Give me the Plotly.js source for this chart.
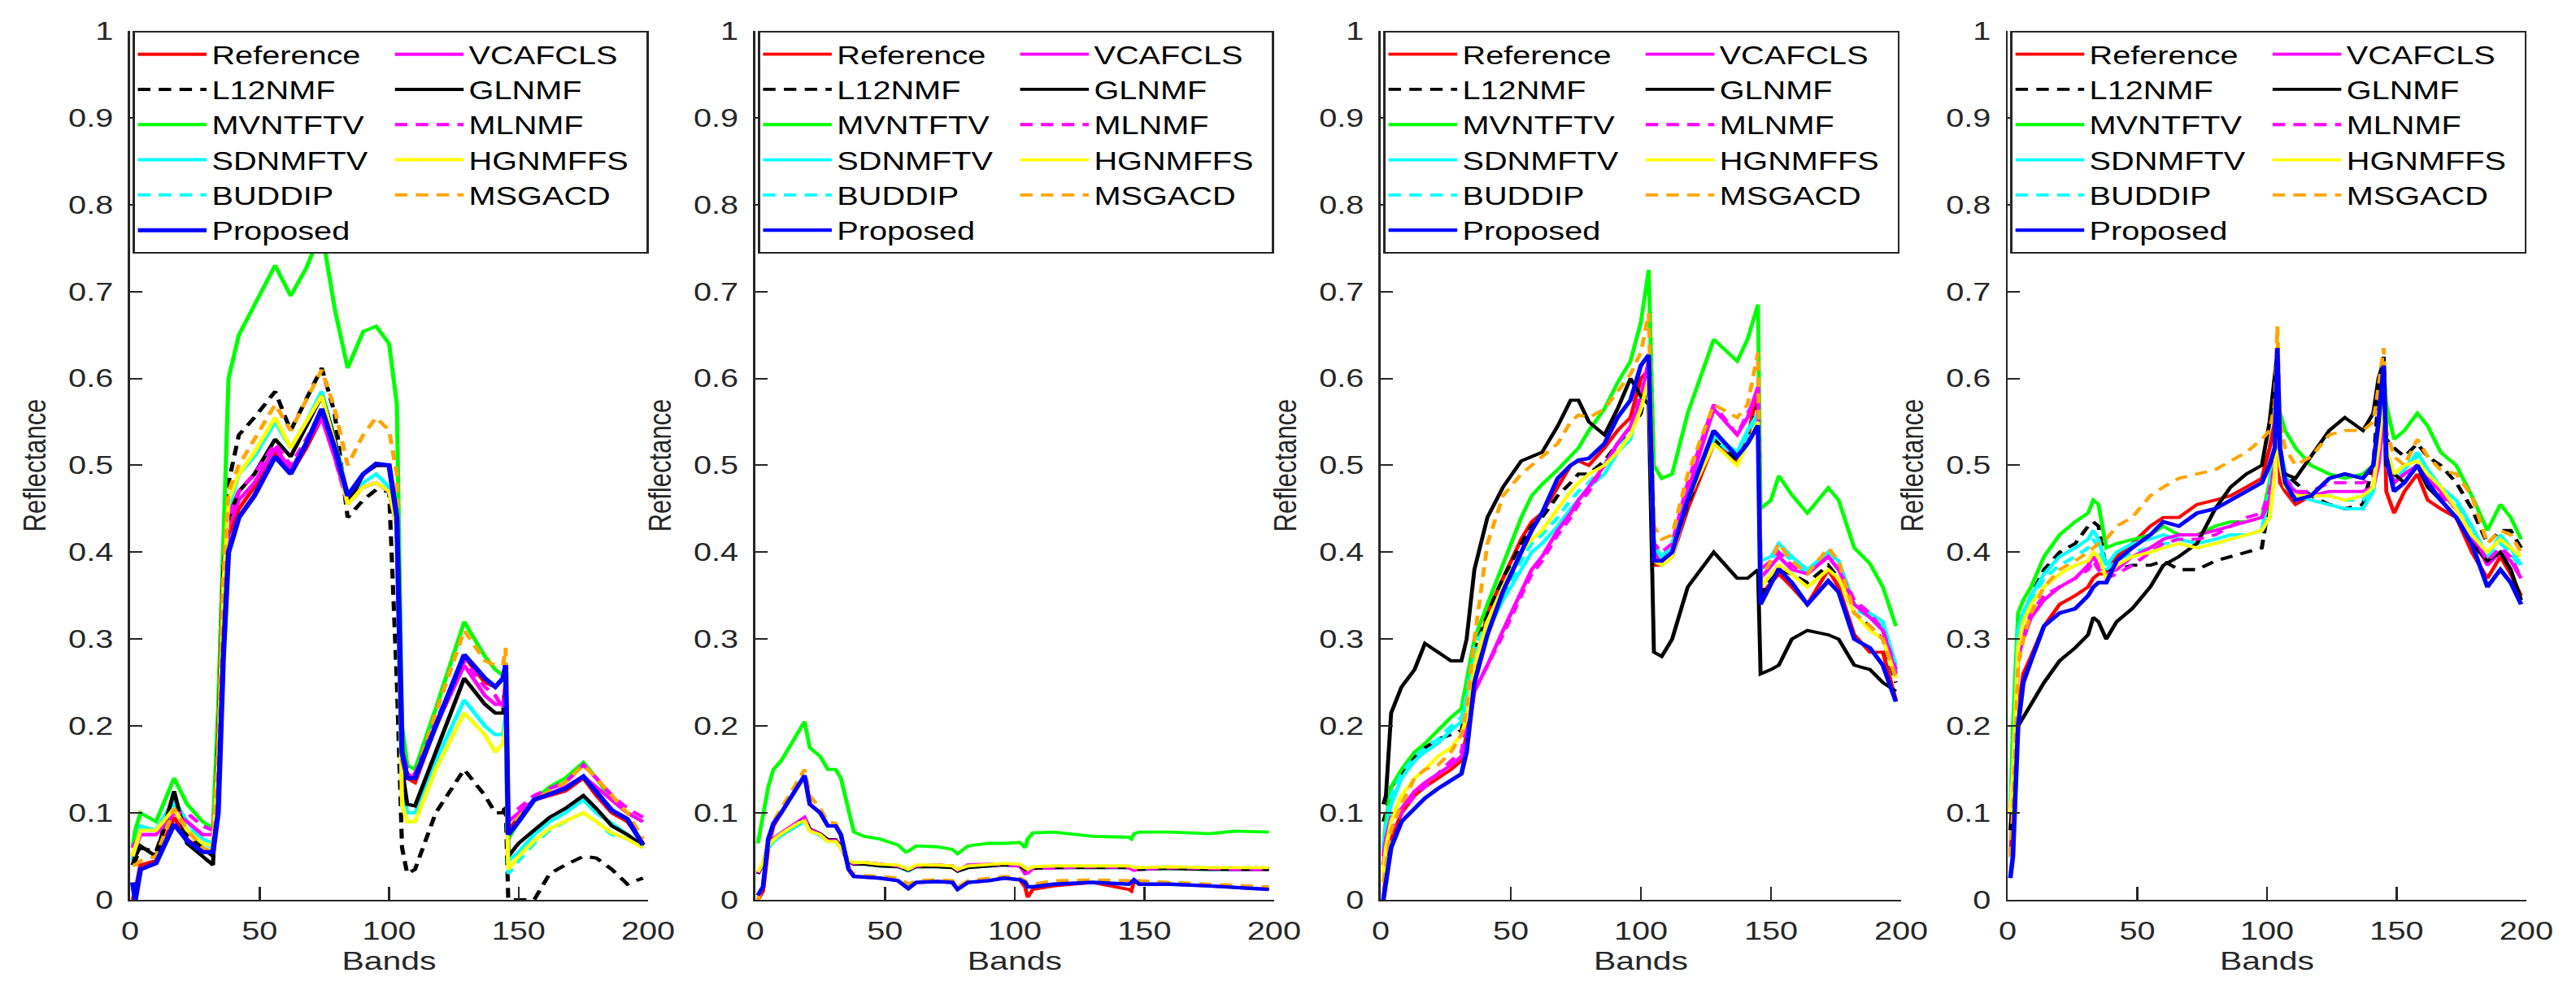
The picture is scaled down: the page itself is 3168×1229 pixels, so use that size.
<!DOCTYPE html>
<html>
<head>
<meta charset="utf-8">
<script src="https://cdn.plot.ly/plotly-3.0.1.min.js"></script>
<style>
html, body { margin: 0; padding: 0; background: #ffffff; overflow: hidden; }
/* the source figure is stretched sideways, so the page is drawn narrower and widened */
#chart { width: 2475px; height: 1229px; transform: scaleX(1.28); transform-origin: 0 0; }
</style>
</head>
<body>
<div id="chart"></div>
<script>
// ---- panel 1 ----
const p1Bands = [1,2,4,10,17,22,28,32,34,36,38,42,48,56,62,68,74,79,84,90,95,100,103,105,107,110,118,129,137,141,144,145,146,150,156,162,168,175,180,186,192,198];
const p1Reference = [0.0,0.01,0.04,0.045,0.095,0.07,0.055,0.055,0.12,0.33,0.42,0.45,0.475,0.515,0.49,0.52,0.555,0.51,0.46,0.49,0.5,0.5,0.44,0.18,0.14,0.135,0.2,0.28,0.25,0.245,0.255,0.265,0.08,0.095,0.115,0.12,0.125,0.14,0.12,0.1,0.09,0.065];
const p1L12NMF = [0.04,0.045,0.06,0.055,0.115,0.075,0.06,0.05,0.18,0.4,0.48,0.535,0.555,0.585,0.54,0.575,0.612,0.56,0.44,0.46,0.472,0.47,0.25,0.06,0.03,0.035,0.1,0.15,0.12,0.1,0.1,0.11,0.0,0.0,0.0,0.03,0.04,0.05,0.048,0.035,0.018,0.025];
const p1MVNTFTV = [0.06,0.08,0.1,0.09,0.14,0.11,0.09,0.082,0.22,0.4,0.6,0.65,0.685,0.73,0.695,0.727,0.77,0.68,0.612,0.654,0.66,0.64,0.57,0.2,0.155,0.15,0.22,0.32,0.28,0.265,0.258,0.255,0.07,0.09,0.115,0.13,0.14,0.158,0.14,0.115,0.1,0.09];
const p1SDNMFTV = [0.045,0.06,0.085,0.08,0.115,0.09,0.07,0.065,0.16,0.36,0.45,0.49,0.51,0.55,0.52,0.55,0.585,0.53,0.465,0.48,0.49,0.475,0.44,0.13,0.1,0.1,0.16,0.23,0.2,0.19,0.19,0.21,0.045,0.055,0.075,0.09,0.1,0.115,0.1,0.088,0.075,0.06];
const p1BUDDIP = [0.05,0.06,0.08,0.08,0.11,0.085,0.065,0.06,0.16,0.36,0.46,0.49,0.51,0.55,0.52,0.55,0.58,0.525,0.46,0.475,0.48,0.47,0.43,0.11,0.09,0.09,0.15,0.215,0.19,0.17,0.18,0.2,0.03,0.045,0.065,0.08,0.09,0.1,0.09,0.075,0.07,0.06];
const p1VCAFCLS = [0.05,0.06,0.075,0.075,0.1,0.09,0.075,0.075,0.14,0.32,0.43,0.46,0.48,0.52,0.495,0.525,0.555,0.51,0.46,0.475,0.48,0.47,0.43,0.16,0.145,0.14,0.2,0.27,0.235,0.225,0.225,0.25,0.09,0.1,0.115,0.122,0.13,0.142,0.13,0.115,0.1,0.09];
const p1GLNMF = [0.04,0.05,0.062,0.05,0.125,0.065,0.05,0.04,0.18,0.38,0.44,0.47,0.49,0.53,0.51,0.545,0.58,0.53,0.455,0.49,0.5,0.5,0.44,0.15,0.11,0.108,0.17,0.255,0.225,0.215,0.215,0.24,0.05,0.065,0.08,0.095,0.105,0.12,0.105,0.085,0.075,0.062];
const p1MLNMF = [0.06,0.065,0.075,0.075,0.1,0.1,0.085,0.08,0.14,0.33,0.44,0.47,0.49,0.525,0.5,0.53,0.56,0.51,0.455,0.475,0.48,0.47,0.43,0.17,0.15,0.145,0.205,0.275,0.245,0.235,0.22,0.24,0.1,0.105,0.12,0.128,0.135,0.155,0.14,0.12,0.105,0.095];
const p1HGNMFFS = [0.05,0.06,0.08,0.08,0.105,0.08,0.065,0.062,0.16,0.36,0.46,0.49,0.515,0.555,0.52,0.55,0.58,0.525,0.455,0.475,0.48,0.47,0.43,0.11,0.09,0.09,0.15,0.215,0.19,0.17,0.18,0.2,0.035,0.05,0.068,0.082,0.09,0.1,0.09,0.077,0.07,0.06];
const p1MSGACD = [0.04,0.04,0.045,0.05,0.105,0.08,0.06,0.055,0.17,0.37,0.47,0.5,0.53,0.57,0.54,0.575,0.61,0.565,0.5,0.535,0.555,0.54,0.49,0.16,0.14,0.14,0.215,0.31,0.275,0.27,0.27,0.29,0.08,0.095,0.115,0.125,0.135,0.155,0.14,0.12,0.1,0.07];
const p1Proposed = [0.02,0.0,0.035,0.042,0.087,0.068,0.055,0.055,0.1,0.28,0.4,0.44,0.465,0.51,0.49,0.525,0.565,0.52,0.465,0.49,0.502,0.5,0.44,0.17,0.14,0.14,0.2,0.282,0.255,0.245,0.255,0.27,0.075,0.09,0.115,0.122,0.128,0.142,0.125,0.103,0.093,0.063];

// ---- panel 2 ----
const p2Bands = [1,3,5,7,10,14,17,19,21,25,28,31,33,36,38,42,48,55,58,59,62,70,76,78,82,90,96,102,104,105,107,115,130,144,145,146,148,160,175,185,198];
const p2Reference = [0.0,0.01,0.06,0.085,0.1,0.12,0.135,0.143,0.11,0.1,0.085,0.085,0.075,0.035,0.027,0.026,0.025,0.022,0.015,0.013,0.02,0.021,0.02,0.012,0.02,0.022,0.025,0.023,0.015,0.003,0.012,0.016,0.02,0.012,0.01,0.022,0.018,0.018,0.016,0.014,0.012];
const p2L12NMF = [0.03,0.04,0.06,0.068,0.075,0.082,0.088,0.092,0.08,0.075,0.068,0.068,0.06,0.045,0.042,0.042,0.04,0.039,0.036,0.035,0.039,0.039,0.038,0.034,0.038,0.04,0.041,0.04,0.036,0.034,0.037,0.038,0.038,0.038,0.037,0.036,0.036,0.037,0.036,0.036,0.036];
const p2MVNTFTV = [0.065,0.1,0.13,0.15,0.16,0.18,0.195,0.205,0.175,0.165,0.15,0.15,0.14,0.1,0.078,0.073,0.07,0.063,0.055,0.056,0.062,0.061,0.058,0.053,0.062,0.065,0.065,0.066,0.06,0.07,0.077,0.078,0.073,0.072,0.07,0.076,0.078,0.078,0.076,0.079,0.078];
const p2SDNMFTV = [0.03,0.04,0.06,0.067,0.074,0.081,0.087,0.09,0.079,0.074,0.067,0.067,0.06,0.043,0.041,0.041,0.039,0.038,0.034,0.033,0.038,0.038,0.037,0.033,0.037,0.039,0.04,0.039,0.035,0.034,0.036,0.037,0.037,0.037,0.036,0.035,0.035,0.036,0.035,0.035,0.035];
const p2BUDDIP = [0.031,0.041,0.061,0.068,0.075,0.082,0.088,0.091,0.08,0.075,0.068,0.068,0.061,0.044,0.042,0.042,0.04,0.039,0.035,0.034,0.039,0.039,0.038,0.034,0.038,0.04,0.041,0.04,0.036,0.035,0.037,0.038,0.038,0.038,0.037,0.036,0.036,0.037,0.036,0.036,0.036];
const p2VCAFCLS = [0.03,0.042,0.063,0.07,0.077,0.085,0.09,0.095,0.082,0.076,0.069,0.069,0.061,0.043,0.042,0.043,0.041,0.039,0.035,0.034,0.039,0.04,0.039,0.034,0.04,0.041,0.04,0.039,0.03,0.031,0.036,0.037,0.038,0.037,0.035,0.034,0.035,0.037,0.036,0.035,0.035];
const p2GLNMF = [0.03,0.042,0.062,0.07,0.076,0.083,0.089,0.093,0.081,0.076,0.069,0.069,0.061,0.044,0.041,0.041,0.039,0.038,0.035,0.034,0.038,0.038,0.037,0.033,0.037,0.039,0.04,0.039,0.035,0.033,0.036,0.037,0.037,0.037,0.036,0.035,0.035,0.036,0.035,0.035,0.035];
const p2MLNMF = [0.031,0.041,0.062,0.07,0.077,0.084,0.09,0.094,0.081,0.075,0.068,0.068,0.06,0.043,0.042,0.043,0.041,0.039,0.035,0.034,0.039,0.04,0.039,0.034,0.04,0.041,0.04,0.039,0.031,0.031,0.036,0.037,0.038,0.037,0.035,0.034,0.035,0.037,0.036,0.035,0.035];
const p2HGNMFFS = [0.032,0.043,0.062,0.069,0.076,0.083,0.089,0.091,0.079,0.075,0.067,0.067,0.06,0.045,0.043,0.043,0.041,0.04,0.036,0.035,0.04,0.04,0.039,0.035,0.039,0.041,0.042,0.041,0.037,0.035,0.038,0.039,0.039,0.039,0.038,0.037,0.037,0.038,0.037,0.037,0.037];
const p2MSGACD = [0.0,0.02,0.065,0.09,0.105,0.125,0.14,0.15,0.12,0.105,0.09,0.088,0.075,0.035,0.03,0.028,0.027,0.025,0.02,0.018,0.022,0.023,0.022,0.015,0.022,0.025,0.027,0.025,0.022,0.018,0.018,0.022,0.023,0.022,0.022,0.025,0.022,0.02,0.018,0.017,0.015];
const p2Proposed = [0.005,0.015,0.07,0.088,0.1,0.12,0.135,0.143,0.11,0.1,0.085,0.085,0.075,0.035,0.027,0.026,0.025,0.022,0.015,0.013,0.02,0.021,0.02,0.012,0.02,0.022,0.025,0.023,0.02,0.015,0.015,0.018,0.02,0.018,0.02,0.023,0.018,0.018,0.016,0.014,0.012];

// ---- panel 3 ----
const p3Bands = [1,2,4,8,13,17,22,27,31,33,36,41,47,54,58,62,68,73,76,80,86,91,96,100,103,105,108,112,118,128,137,141,145,146,150,153,158,164,172,176,182,188,193,198];
const p3Reference = [0.0,0.03,0.07,0.1,0.12,0.13,0.14,0.15,0.16,0.19,0.26,0.33,0.37,0.415,0.435,0.445,0.475,0.5,0.505,0.5,0.52,0.54,0.555,0.6,0.61,0.385,0.385,0.395,0.45,0.525,0.505,0.53,0.59,0.35,0.365,0.375,0.36,0.34,0.38,0.36,0.305,0.285,0.285,0.23];
const p3L12NMF = [0.09,0.1,0.13,0.145,0.165,0.175,0.185,0.19,0.195,0.22,0.29,0.33,0.37,0.41,0.43,0.44,0.465,0.48,0.49,0.49,0.505,0.525,0.54,0.56,0.6,0.39,0.39,0.4,0.455,0.53,0.505,0.525,0.57,0.35,0.37,0.38,0.375,0.365,0.385,0.37,0.33,0.315,0.3,0.25];
const p3MVNTFTV = [0.06,0.09,0.13,0.15,0.17,0.18,0.195,0.21,0.22,0.25,0.3,0.34,0.385,0.44,0.465,0.478,0.495,0.51,0.52,0.54,0.565,0.595,0.62,0.665,0.725,0.5,0.485,0.49,0.56,0.645,0.62,0.645,0.685,0.45,0.46,0.488,0.466,0.445,0.474,0.46,0.405,0.387,0.36,0.315];
const p3SDNMFTV = [0.055,0.08,0.11,0.14,0.16,0.17,0.18,0.195,0.205,0.23,0.28,0.31,0.345,0.38,0.4,0.41,0.43,0.45,0.46,0.475,0.49,0.515,0.53,0.58,0.6,0.41,0.395,0.41,0.47,0.535,0.515,0.54,0.56,0.39,0.395,0.41,0.395,0.38,0.4,0.39,0.34,0.33,0.32,0.27];
const p3BUDDIP = [0.06,0.085,0.12,0.145,0.165,0.175,0.185,0.2,0.21,0.235,0.29,0.32,0.35,0.39,0.41,0.42,0.44,0.46,0.47,0.48,0.5,0.52,0.535,0.575,0.6,0.405,0.39,0.405,0.465,0.53,0.51,0.535,0.555,0.38,0.39,0.405,0.39,0.375,0.395,0.385,0.335,0.325,0.315,0.265];
const p3VCAFCLS = [0.05,0.07,0.095,0.105,0.125,0.135,0.145,0.155,0.165,0.18,0.24,0.27,0.31,0.355,0.38,0.395,0.425,0.445,0.46,0.475,0.5,0.525,0.545,0.575,0.62,0.4,0.385,0.4,0.47,0.565,0.535,0.555,0.59,0.37,0.385,0.395,0.38,0.375,0.395,0.38,0.34,0.325,0.31,0.26];
const p3GLNMF = [0.11,0.12,0.215,0.245,0.265,0.295,0.285,0.275,0.275,0.3,0.38,0.44,0.475,0.505,0.51,0.515,0.545,0.575,0.575,0.55,0.535,0.565,0.6,0.58,0.57,0.285,0.28,0.3,0.36,0.4,0.37,0.37,0.38,0.26,0.265,0.27,0.3,0.31,0.305,0.3,0.27,0.265,0.25,0.24];
const p3MLNMF = [0.04,0.06,0.08,0.1,0.12,0.13,0.145,0.16,0.17,0.2,0.24,0.27,0.305,0.35,0.375,0.39,0.42,0.44,0.455,0.47,0.5,0.525,0.545,0.58,0.62,0.41,0.4,0.41,0.48,0.57,0.535,0.56,0.58,0.38,0.39,0.4,0.385,0.375,0.395,0.38,0.345,0.33,0.31,0.265];
const p3HGNMFFS = [0.03,0.06,0.09,0.12,0.14,0.15,0.165,0.175,0.19,0.21,0.27,0.32,0.36,0.4,0.415,0.425,0.45,0.47,0.48,0.49,0.5,0.515,0.535,0.565,0.6,0.39,0.385,0.395,0.46,0.525,0.5,0.525,0.55,0.36,0.375,0.385,0.375,0.36,0.38,0.37,0.33,0.31,0.3,0.255];
const p3MSGACD = [0.02,0.04,0.08,0.11,0.14,0.15,0.155,0.17,0.19,0.22,0.3,0.41,0.465,0.49,0.5,0.51,0.525,0.55,0.558,0.555,0.565,0.585,0.605,0.63,0.675,0.43,0.415,0.42,0.49,0.57,0.555,0.57,0.63,0.37,0.39,0.41,0.39,0.375,0.405,0.39,0.33,0.315,0.3,0.255];
const p3Proposed = [0.0,0.02,0.06,0.09,0.105,0.117,0.128,0.138,0.145,0.17,0.25,0.305,0.355,0.4,0.425,0.445,0.485,0.5,0.506,0.508,0.525,0.555,0.575,0.615,0.627,0.39,0.39,0.4,0.46,0.54,0.51,0.525,0.546,0.34,0.365,0.381,0.365,0.34,0.367,0.354,0.3,0.29,0.27,0.228];

// ---- panel 4 ----
const p4Bands = [1,2,4,6,9,14,20,26,31,33,35,38,42,48,55,60,66,73,80,86,92,98,101,103,104,105,107,111,117,124,130,137,141,143,145,146,149,153,158,162,167,173,179,185,190,194,198];
const p4Reference = [0.05,0.1,0.22,0.26,0.28,0.315,0.34,0.35,0.36,0.37,0.375,0.375,0.395,0.41,0.43,0.44,0.44,0.455,0.46,0.465,0.475,0.485,0.52,0.55,0.6,0.48,0.47,0.455,0.465,0.485,0.49,0.485,0.5,0.54,0.6,0.47,0.445,0.47,0.49,0.46,0.45,0.44,0.4,0.37,0.395,0.375,0.35];
const p4L12NMF = [0.1,0.15,0.3,0.33,0.35,0.38,0.4,0.41,0.43,0.435,0.43,0.38,0.38,0.385,0.385,0.39,0.38,0.38,0.39,0.395,0.4,0.405,0.46,0.52,0.62,0.52,0.49,0.48,0.465,0.455,0.45,0.455,0.5,0.58,0.625,0.53,0.52,0.51,0.525,0.51,0.5,0.48,0.45,0.41,0.425,0.425,0.405];
const p4MVNTFTV = [0.1,0.2,0.33,0.345,0.36,0.395,0.42,0.435,0.445,0.46,0.455,0.405,0.41,0.415,0.42,0.43,0.42,0.42,0.43,0.435,0.435,0.44,0.48,0.52,0.6,0.56,0.54,0.52,0.5,0.49,0.485,0.49,0.5,0.54,0.61,0.57,0.53,0.54,0.56,0.545,0.515,0.5,0.465,0.425,0.455,0.44,0.415];
const p4SDNMFTV = [0.11,0.15,0.31,0.33,0.35,0.375,0.395,0.405,0.415,0.425,0.415,0.385,0.4,0.41,0.415,0.42,0.415,0.41,0.415,0.42,0.42,0.425,0.47,0.52,0.6,0.52,0.49,0.465,0.46,0.455,0.45,0.45,0.47,0.52,0.59,0.5,0.48,0.495,0.515,0.495,0.475,0.46,0.43,0.395,0.42,0.405,0.385];
const p4BUDDIP = [0.1,0.14,0.3,0.325,0.345,0.37,0.385,0.395,0.405,0.415,0.405,0.38,0.39,0.4,0.405,0.41,0.41,0.405,0.41,0.415,0.42,0.425,0.44,0.5,0.58,0.51,0.485,0.47,0.465,0.465,0.46,0.46,0.475,0.52,0.585,0.52,0.49,0.5,0.51,0.49,0.475,0.455,0.425,0.39,0.41,0.4,0.38];
const p4VCAFCLS = [0.105,0.13,0.28,0.3,0.325,0.345,0.36,0.37,0.385,0.395,0.385,0.375,0.38,0.395,0.405,0.415,0.42,0.42,0.425,0.43,0.435,0.44,0.46,0.5,0.54,0.5,0.48,0.47,0.465,0.47,0.47,0.47,0.475,0.5,0.56,0.5,0.48,0.49,0.5,0.485,0.47,0.45,0.42,0.385,0.4,0.39,0.37];
const p4GLNMF = [0.08,0.12,0.2,0.21,0.225,0.25,0.275,0.29,0.305,0.325,0.32,0.3,0.32,0.335,0.36,0.385,0.395,0.41,0.45,0.475,0.49,0.5,0.55,0.6,0.63,0.5,0.49,0.485,0.51,0.54,0.555,0.54,0.56,0.6,0.62,0.5,0.49,0.48,0.5,0.475,0.46,0.44,0.41,0.39,0.4,0.38,0.345];
const p4MLNMF = [0.1,0.13,0.28,0.305,0.33,0.35,0.36,0.37,0.38,0.39,0.38,0.37,0.375,0.385,0.4,0.41,0.415,0.415,0.42,0.43,0.44,0.445,0.47,0.5,0.56,0.51,0.485,0.47,0.47,0.48,0.48,0.48,0.485,0.52,0.58,0.51,0.48,0.49,0.5,0.485,0.465,0.45,0.42,0.39,0.405,0.395,0.37];
const p4HGNMFFS = [0.1,0.14,0.29,0.32,0.34,0.36,0.375,0.385,0.39,0.4,0.395,0.37,0.385,0.395,0.4,0.405,0.41,0.405,0.41,0.415,0.42,0.425,0.44,0.49,0.57,0.5,0.475,0.465,0.465,0.465,0.46,0.465,0.475,0.52,0.58,0.52,0.49,0.5,0.505,0.49,0.475,0.45,0.42,0.4,0.415,0.405,0.395];
const p4MSGACD = [0.05,0.1,0.27,0.3,0.33,0.36,0.38,0.39,0.4,0.405,0.41,0.415,0.43,0.44,0.465,0.475,0.485,0.49,0.495,0.505,0.515,0.53,0.54,0.57,0.66,0.55,0.52,0.5,0.51,0.535,0.54,0.54,0.55,0.59,0.635,0.54,0.51,0.5,0.53,0.51,0.495,0.49,0.465,0.41,0.425,0.42,0.4];
const p4Proposed = [0.025,0.05,0.2,0.25,0.275,0.315,0.33,0.335,0.35,0.36,0.365,0.365,0.39,0.405,0.42,0.435,0.43,0.445,0.45,0.46,0.47,0.48,0.5,0.52,0.635,0.52,0.48,0.46,0.465,0.485,0.49,0.485,0.5,0.55,0.615,0.51,0.47,0.48,0.5,0.48,0.46,0.44,0.41,0.36,0.38,0.365,0.34];

// method order: first legend column, then second column, Proposed drawn last
const methodNames = ['Reference','L12NMF','MVNTFTV','SDNMFTV','BUDDIP','VCAFCLS','GLNMF','MLNMF','HGNMFFS','MSGACD','Proposed'];
const methodColors = ['#ff0000','#000000','#00ff00','#00ffff','#00ffff','#ff00ff','#000000','#ff00ff','#ffff00','#ffa500','#0000ff'];
const methodDash = ['solid','12px,8px','solid','solid','12px,8px','solid','solid','12px,8px','solid','12px,8px','solid'];
const methodColumn = ['c1','c1','c1','c1','c1','c2','c2','c2','c2','c2','c1'];

const panelBands = [p1Bands, p2Bands, p3Bands, p4Bands];
const panelValues = [
    [p1Reference, p1L12NMF, p1MVNTFTV, p1SDNMFTV, p1BUDDIP, p1VCAFCLS, p1GLNMF, p1MLNMF, p1HGNMFFS, p1MSGACD, p1Proposed],
    [p2Reference, p2L12NMF, p2MVNTFTV, p2SDNMFTV, p2BUDDIP, p2VCAFCLS, p2GLNMF, p2MLNMF, p2HGNMFFS, p2MSGACD, p2Proposed],
    [p3Reference, p3L12NMF, p3MVNTFTV, p3SDNMFTV, p3BUDDIP, p3VCAFCLS, p3GLNMF, p3MLNMF, p3HGNMFFS, p3MSGACD, p3Proposed],
    [p4Reference, p4L12NMF, p4MVNTFTV, p4SDNMFTV, p4BUDDIP, p4VCAFCLS, p4GLNMF, p4MLNMF, p4HGNMFFS, p4MSGACD, p4Proposed]
];

const xDomains = [[0.0505, 0.2516], [0.2932, 0.4946], [0.536, 0.738], [0.7794, 0.9807]];
const yDomain = [0.0993, 0.9691];
const fontFamily = 'Liberation Sans, Arial, Helvetica, sans-serif';
const ink = '#262626';

let data = [];
let layout = {
    width: 2475,
    height: 1229,
    margin: {l: 0, r: 0, t: 0, b: 0},
    paper_bgcolor: '#ffffff',
    plot_bgcolor: '#ffffff',
    showlegend: true,
    font: {family: fontFamily, size: 31, color: ink}
};

panelValues.forEach((series, p) => {
    const sfx = p === 0 ? '' : String(p + 1);
    series.forEach((vals, m) => {
        const isProposed = methodNames[m] === 'Proposed';
        let w = p === 0 ? 4 : 3.8;
        if (isProposed) w = p === 0 ? 5 : 4.4;
        data.push({
            x: panelBands[p],
            y: vals,
            type: 'scatter',
            mode: 'lines',
            name: methodNames[m],
            xaxis: 'x' + sfx,
            yaxis: 'y' + sfx,
            legend: 'legend' + sfx,
            legendgroup: methodColumn[m],
            hoverinfo: 'skip',
            line: {
                color: methodColors[m],
                width: w,
                dash: methodDash[m]
            }
        });
    });

    layout['xaxis' + sfx] = {
        domain: xDomains[p],
        anchor: 'y' + sfx,
        range: [0, 200],
        dtick: 50,
        tick0: 0,
        showgrid: false,
        zeroline: false,
        showline: true,
        linecolor: ink,
        linewidth: 2,
        ticks: 'inside',
        ticklen: 16,
        tickwidth: 2,
        tickcolor: ink,
        ticklabelstandoff: 10,
        tickfont: {family: fontFamily, size: 31, color: ink},
        title: {text: 'Bands', font: {family: fontFamily, size: 32, color: ink}, standoff: 8}
    };
    layout['yaxis' + sfx] = {
        domain: yDomain,
        anchor: 'x' + sfx,
        range: [0, 1],
        dtick: 0.1,
        tick0: 0,
        showgrid: false,
        zeroline: false,
        showline: true,
        linecolor: ink,
        linewidth: 2,
        ticks: 'inside',
        ticklen: 12,
        tickwidth: 2,
        tickcolor: ink,
        ticklabelstandoff: 8,
        tickfont: {family: fontFamily, size: 31, color: ink},
        title: {text: 'Reflectance', font: {family: fontFamily, size: 31, color: ink}, standoff: 12}
    };
    layout['legend' + sfx] = {
        x: xDomains[p][0] + 0.001,
        xanchor: 'left',
        y: yDomain[1],
        yanchor: 'top',
        orientation: 'h',
        traceorder: 'grouped',
        tracegroupgap: 0,
        bgcolor: '#ffffff',
        bordercolor: ink,
        borderwidth: 2,
        itemwidth: 66,
        entrywidth: 166,
        entrywidthmode: 'pixels',
        font: {family: fontFamily, size: 31, color: '#000000'}
    };
});

Plotly.newPlot('chart', data, layout, {staticPlot: true});
</script>
</body>
</html>
